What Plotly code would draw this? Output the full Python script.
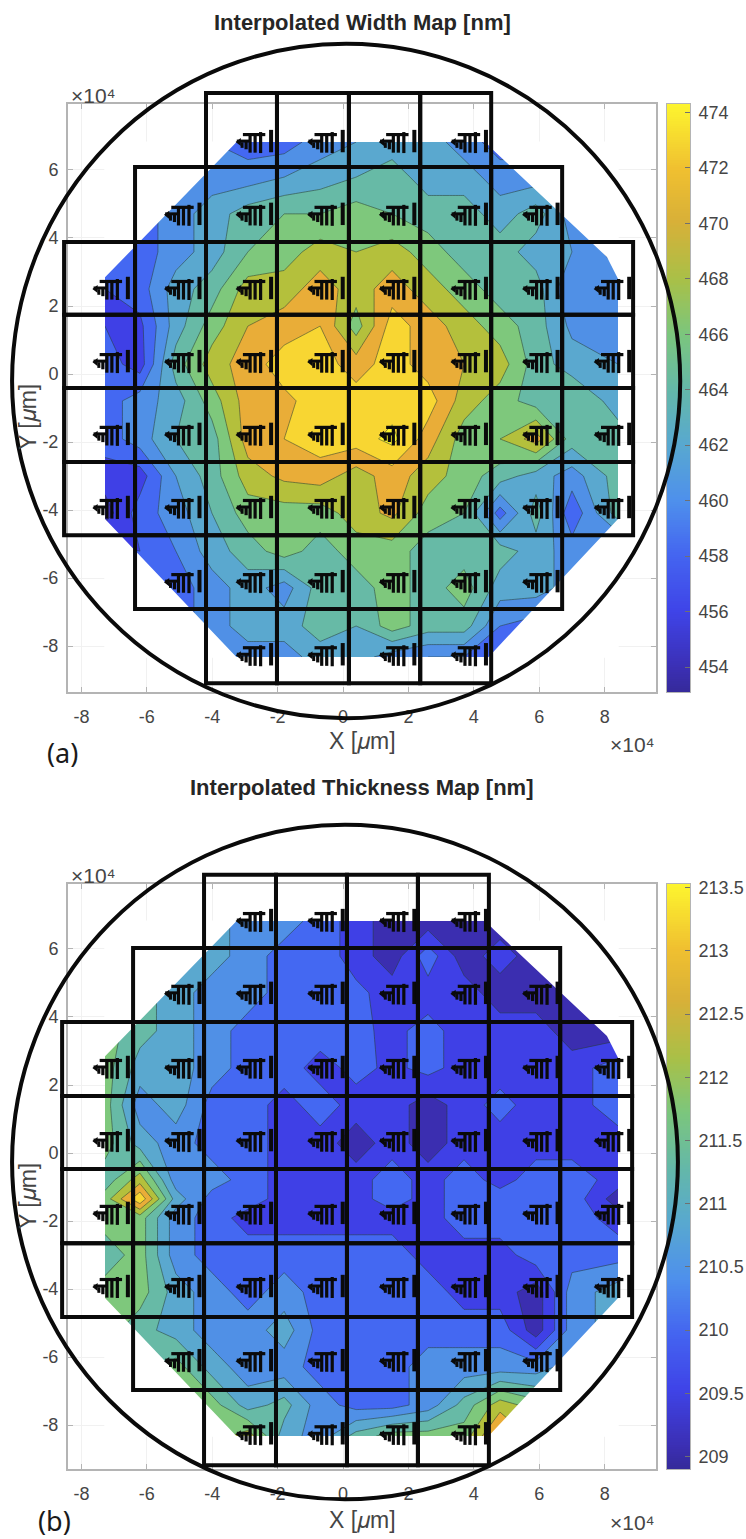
import plotly.graph_objects as go

W, H = 746, 1539
# ---------- data (x, y in units of 1e4 um) ----------
grid_x = [-7.28,-6.21,-5.11,-4.01,-2.91,-1.80,-0.70,0.40,1.50,2.60,3.70,4.80,5.90,7.00,8.41]
grid_y = [6.82,5.79,4.71,3.59,2.50,1.41,0.29,-0.79,-1.91,-3.00,-4.09,-5.21,-6.29,-7.41,-8.32]
grid_y_b = [6.82,5.79,4.71,3.59,2.50,1.41,0.29,-0.79,-1.35,-1.91,-3.00,-4.09,-5.21,-6.29,-7.41,-8.32]

width_nm = [
 [459,459,459,460,459,459,461,462,463,463,461,459,459,459,459],
 [459,459,460,461,461,462,463,464,465,463,463,461,461,459,459],
 [459,459,461,463,465,466,466,467,466,465,465,463,465,461,459],
 [459,459,461,463,466,467,469,468,469,467,465,465,463,462,459],
 [458,459,463,465,469,469,471,469,471,469,467,465,465,460,461],
 [458,457.5,463,467,470,471,472,467,473,471,469,467,465,461.5,461],
 [459,457,465,469,471,473,473,471,473,471,470,469,465,463,462],
 [459,461,463,467,471,471.5,473,473,473,473,469,467,465,466,463],
 [459,461,464,465,471,472,473,473,474.6,471,467,468,471,465,465],
 [457,457,462,465,469,470.5,471,469,471,469,467,465,463,461,465],
 [455,459,461,464,467,467,467,469,470.5,467,466,459,465,458.5,465],
 [459,458,460,463,465,467,465,467,467,465,465,465,463,461,459],
 [459,459,459,461,463,461,465,465,467,465,467,463,463,461,459],
 [459,459,459,461,463,463,465,464,467,465,465,460,459,459,459],
 [459,459,459,460,461,461,463,463,461,460,460,459,459,459,459],
]
thickness_nm = [
 [211.4,211.4,211.4,211.0,210.5,210.5,210.1,209.6,209.1,209.1,209.1,209.1,209.1,209.1,209.1],
 [211.4,211.4,211.4,211.0,210.5,210.1,210.1,209.6,209.1,210.1,209.1,209.6,209.1,209.1,209.1],
 [211.4,211.4,211.0,210.5,210.5,210.1,210.1,209.95,209.6,209.6,209.6,209.1,209.1,209.1,209.1],
 [211.9,211.4,211.0,210.5,210.1,210.1,210.1,209.95,209.7,210.0,209.6,209.6,209.6,209.1,209.1],
 [211.9,211.0,211.0,210.5,210.1,210.1,209.6,210.0,209.7,210.0,209.6,209.6,209.6,209.6,210.1],
 [211.9,210.5,211.0,210.1,210.1,209.6,210.1,209.6,209.6,209.1,209.6,210.0,209.6,209.6,210.1],
 [211.9,211.0,210.5,210.1,210.1,209.6,209.6,209.1,209.6,209.1,209.6,209.6,209.6,209.6,209.6],
 [211.4,212.4,210.5,210.5,210.1,209.6,209.6,209.6,210.1,209.6,210.1,209.6,210.1,210.1,209.6],
 [211.9,213.45,211.0,210.1,210.1,209.6,209.6,209.6,210.1,209.6,210.1,210.1,210.1,210.1,209.1],
 [211.9,211.9,210.5,210.1,209.6,209.6,209.6,209.6,209.6,209.6,210.1,210.1,210.1,210.1,209.6],
 [211.4,211.9,210.5,210.1,210.1,210.1,210.1,210.1,210.1,209.6,209.6,209.6,210.1,210.1,210.1],
 [211.9,211.9,211.0,210.5,210.1,210.5,210.1,210.1,210.1,210.1,209.6,209.6,209.1,210.5,211.0],
 [211.9,211.4,211.0,210.5,210.5,211.0,210.1,210.1,210.1,210.1,210.1,210.1,209.1,210.5,211.0],
 [211.9,211.4,211.9,211.0,210.5,210.5,210.1,210.1,210.1,210.5,210.5,210.5,210.5,211.0,211.0],
 [211.9,211.9,211.9,211.9,211.0,211.4,210.5,210.1,210.1,210.5,211.4,212.4,211.9,211.9,211.9],
 [211.9,211.9,211.9,211.9,212.4,211.0,210.5,211.4,211.9,211.9,211.9,213.3,212.4,212.4,212.4],
]
# die sites
die_cols_x = [-7.65,-5.46,-3.27,-1.08,1.11,3.30,5.49,7.68]
die_rows_y = [6.85,4.71,2.53,0.38,-1.76,-3.91,-6.09,-8.24]
die_col_span = [(2,5),(1,6),(0,7),(0,7),(0,7),(0,7),(1,6),(2,5)]
# reticle grid edges
edges_x_a = [-8.53,-6.36,-4.19,-2.02,0.18,2.36,4.53,6.70,8.87]
edges_y_a = [8.26,6.09,3.88,1.74,-0.41,-2.59,-4.74,-6.91,-9.09]
edges_x_b = [-8.59,-6.42,-4.25,-2.05,0.12,2.29,4.46,6.64,8.84]
edges_y_b = [8.18,6.03,3.85,1.68,-0.47,-2.65,-4.82,-6.97,-9.18]
edge_col_span = [(2,6),(1,7),(0,8),(0,8),(0,8),(0,8),(1,7),(2,6)]
wafer_a = (-10.12,10.31,9.71,-10.12)
wafer_b = (-10.12,10.24,9.65,-10.18)
# map outline corners cut away
cut_x = [-7.3,-3.24,-7.3,-7.3,None,4.34,4.59,8.07,8.43,8.43,4.34,None,-7.3,-3.24,-7.3,-7.3,None,4.43,8.43,8.43,4.43]
cut_y = [6.84,6.84,2.82,6.84,None,6.84,6.59,3.44,2.76,6.84,6.84,None,-4.24,-8.34,-8.34,-4.24,None,-8.34,-4.24,-8.34,-8.34]

xticks = [-8,-6,-4,-2,0,2,4,6,8]
yticks = [-8,-6,-4,-2,0,2,4,6]
cbar_a = list(range(454,476,2))
cbar_b = [209,209.5,210,210.5,211,211.5,212,212.5,213,213.5]
cbar_b_text = ["209","209.5","210","210.5","211","211.5","212","212.5","213","213.5"]

smooth = [[0,"#352a9a"],[0.04,"#3b2fb4"],[0.137,"#3f44e8"],[0.23,"#4464f0"],[0.325,"#4e90ec"],
          [0.42,"#58a8d0"],[0.515,"#64b8a8"],[0.61,"#7cc67c"],[0.70,"#a8c048"],[0.80,"#d8b038"],
          [0.89,"#f0c030"],[1,"#fdf52f"]]
bands = ["#3b2eb0","#3f40e6","#4468f2","#5090e6","#5aa8cf","#67baa6","#7ec87c","#b4c03c","#e9ad38","#f8d632","#fbf52e"]

def discrete(cols):
    n = len(cols)-1
    return [[i/n,c] for i,c in enumerate(cols)]

LM, RM = 68, 656
XR = [-8.41, 9.57]
panels = [
  dict(top=104,bot=692,yr=[-9.35,7.94],ex=edges_x_a,ey=edges_y_a,w=wafer_a,ax="",cax="3",z=width_nm,gy=grid_y,
       start=454,end=474,size=2,cols=["#352a9a"]+bands,cr=(453.1,474.3),ct=cbar_a,ctt=[str(v) for v in cbar_a]),
  dict(top=884,bot=1469,yr=[-9.29,7.91],ex=edges_x_b,ey=edges_y_b,w=wafer_b,ax="2",cax="4",z=thickness_nm,gy=grid_y_b,
       start=209.363,end=213.07,size=0.4633,cols=bands[:10],cr=(208.9,213.53),ct=cbar_b,ctt=cbar_b_text),
]
GREY="#b4b4b4"; TXT="#454545"; FS=18
fig = go.Figure()
shapes=[]; ann=[]
def px(x): return x/W
def py(y): return 1-y/H

for i,p in enumerate(panels):
    xa="x"+p["ax"]; ya="y"+p["ax"]; xc="x"+p["cax"]; yc="y"+p["cax"]
    fig.add_trace(go.Contour(x=grid_x,y=p["gy"],z=p["z"],xaxis=xa,yaxis=ya,showscale=False,
        autocontour=False,contours=dict(coloring="fill",start=p["start"],end=p["end"],size=p["size"]),
        colorscale=discrete(p["cols"]),line=dict(color="rgba(40,60,50,0.6)",width=0.9,smoothing=0),hoverinfo="skip"))
    fig.add_trace(go.Scatter(x=cut_x,y=cut_y,xaxis=xa,yaxis=ya,mode="none",fill="toself",fillcolor="white",
        showlegend=False,hoverinfo="skip"))
    # colour bar as its own small axes
    lo,hi=p["cr"]
    lv=[lo+(hi-lo)*k/255 for k in range(256)]
    fig.add_trace(go.Heatmap(z=[[v] for v in lv],x=[0],y=lv,xaxis=xc,yaxis=yc,zmin=lo,zmax=hi,colorscale=smooth,
                             showscale=False,hoverinfo="skip"))
    fig.update_layout(**{
      "xaxis"+p["cax"]:dict(anchor=yc,domain=[667/W,690/W],range=[-0.5,0.5],showticklabels=False,ticks="",showgrid=False,
                            zeroline=False,showline=True,linecolor=GREY,linewidth=1,mirror=True),
      "yaxis"+p["cax"]:dict(anchor=xc,side="right",domain=[py(p["bot"]),py(p["top"])],range=[lo,hi],tickmode="array",
                            tickvals=p["ct"],ticktext=p["ctt"],ticks="inside",ticklen=5,tickcolor="#707070",showgrid=False,
                            zeroline=False,showline=True,linecolor=GREY,linewidth=1,mirror=True,ticklabelstandoff=4,
                            tickfont=dict(family="Liberation Sans",size=FS,color=TXT))})
    # die glyphs, drawn with markers on the die sites
    dx=[];dy=[]
    for r,(a,b) in zip(die_rows_y,die_col_span):
        for c in die_cols_x[a:b+1]:
            dx.append(c);dy.append(r)
    ux=1/32.7; uy=1/34
    def mk(offx,offy,sym,size,lw):
        fig.add_trace(go.Scatter(x=[v+offx*ux for v in dx],y=[v+offy*uy for v in dy],xaxis=xa,yaxis=ya,mode="markers",
            showlegend=False,hoverinfo="skip",cliponaxis=False,
            marker=dict(symbol=sym,size=size,color="#0a0a0a",line=dict(color="#0a0a0a",width=lw))))
    mk(3,-1,"triangle-left",7,0)
    mk(7,0,"line-ew",9,3)
    mk(6,-4,"line-ns",4,3)
    for off,s,oy in ((10,6,-4),(14,13,-2.5),(19,13,-2.5),(24.5,15,-1.5)):
        mk(off,oy,"line-ns",s,3.2)
    mk(18,6.5,"line-ew",16,3.2)
    mk(35,0,"line-ns",16,4)

    ll=dict(anchor=ya,domain=[LM/W,RM/W],range=XR,tickmode="array",tickvals=xticks,ticktext=[str(v) for v in xticks],
            ticks="inside",ticklen=5,tickcolor=GREY,showline=True,linecolor=GREY,linewidth=2,mirror="ticks",
            showgrid=True,gridcolor="#f1f1f1",gridwidth=1,zeroline=False,ticklabelstandoff=7,
            tickfont=dict(family="Liberation Sans",size=FS,color=TXT))
    yl=dict(anchor=xa,domain=[py(p["bot"]),py(p["top"])],range=p["yr"],tickmode="array",tickvals=yticks,ticktext=[str(v) for v in yticks],
            ticks="inside",ticklen=5,tickcolor=GREY,showline=True,linecolor=GREY,linewidth=2,mirror="ticks",
            showgrid=True,gridcolor="#f1f1f1",gridwidth=1,zeroline=False,ticklabelstandoff=4,
            tickfont=dict(family="Liberation Sans",size=FS,color=TXT))
    fig.update_layout(**{"xaxis"+p["ax"]:ll,"yaxis"+p["ax"]:yl})

    # overlay: reticle grid and wafer circle, data -> paper
    X=lambda v: (LM+(v-XR[0])/(XR[1]-XR[0])*(RM-LM))/W
    Y=(lambda pp: (lambda v: py(pp["bot"]-(v-pp["yr"][0])/(pp["yr"][1]-pp["yr"][0])*(pp["bot"]-pp["top"]))))(p)
    ex,ey=p["ex"],p["ey"]
    for r,(a,b) in enumerate(edge_col_span):
        for c in range(a,b):
            shapes.append(dict(type="rect",xref="paper",yref="paper",x0=X(ex[c]),x1=X(ex[c+1]),y0=Y(ey[r]),y1=Y(ey[r+1]),
                               line=dict(color="#0a0a0a",width=4)))
    w=p["w"]
    shapes.append(dict(type="circle",xref="paper",yref="paper",x0=X(w[0]),x1=X(w[1]),y0=Y(w[3]),y1=Y(w[2]),line=dict(color="#0a0a0a",width=4)))

def text(s,x,y,size,color=TXT,bold=False,angle=0,anchor="center",fam="Liberation Sans"):
    ann.append(dict(text=f"<b>{s}</b>" if bold else s,xref="paper",yref="paper",x=px(x),y=py(y),xanchor=anchor,yanchor="middle",
                    showarrow=False,textangle=angle,font=dict(family=fam,size=size,color=color)))
text("Interpolated Width Map [nm]",362,22,22,"#262626",True)
text("Interpolated Thickness Map [nm]",362,787,22,"#262626",True)
for yy,tb in ((741,95),(1520,875)):
    text("X [𝜇m]",362,yy,23)
    text("×10⁴",69,tb,21,anchor="left")
text("×10⁴",608,745,21,anchor="left")
text("×10⁴",608,1522,21,anchor="left")
text("Y [𝜇m]",28,417,23,angle=-90)
text("Y [𝜇m]",28,1196,23,angle=-90)
text("(a)",62,752,27,"#1a1a1a",fam="Noto Sans")
text("(b)",55,1520,27,"#1a1a1a",fam="Noto Sans")

fig.update_layout(width=W,height=H,margin=dict(l=0,r=0,t=0,b=0,autoexpand=False),paper_bgcolor="white",plot_bgcolor="white",
                  showlegend=False,shapes=shapes,annotations=ann)
fig.write_html("out.html",config={"displayModeBar":False},
               post_script="document.body.style.margin='0';document.body.style.overflow='hidden';")
